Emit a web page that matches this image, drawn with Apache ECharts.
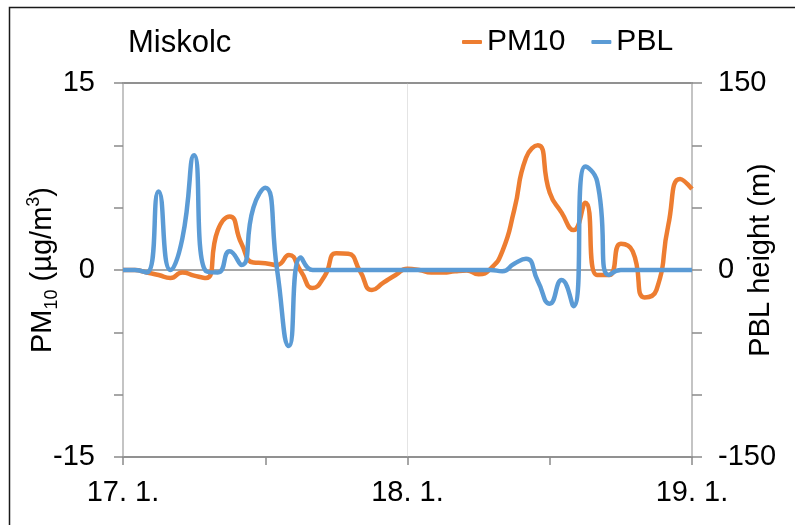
<!DOCTYPE html>
<html>
<head>
<meta charset="utf-8">
<script src="https://cdn.jsdelivr.net/npm/echarts@6/dist/echarts.min.js"></script>
<style>
html,body{margin:0;padding:0;background:#fff;}
#chart{width:795px;height:525px;}
</style>
</head>
<body>
<div id="chart"></div>
<script>
// Hours since 17.1. 00:00 (hourly)
const hours = [0,1,2,3,4,5,6,7,8,9,10,11,12,13,14,15,16,17,18,19,20,21,22,23,24,25,26,27,28,29,30,31,32,33,34,35,36,37,38,39,40,41,42,43,44,45,46,47,48];
// PM10 (µg/m3), left axis
const pm10 = [0,0,-0.2,-0.4,-0.65,-0.2,-0.45,-0.65,3.2,4.3,2.1,0.6,0.55,0.4,1.2,-0.1,-1.45,-0.5,1.35,1.3,-0.1,-1.6,-1.0,-0.4,0.1,0,-0.2,-0.2,-0.1,-0.05,-0.35,0.1,1.5,4.8,9.0,10.0,6.2,4.6,3.2,5.4,-0.4,-0.4,2.1,1.5,-2.2,-1.6,3.6,7.3,6.5];
// PBL height (m), right axis
const pbl = [0,0,-2,63,0,25,92,-1,-2,15,4,50,66,0,-61,10,0,0,0,0,0,0,0,0,0,0,0,0,0,0,0,0,-1,5,9,-9,-27,-8,-29,83,71,-4,0,0,0,0,0,0,0];
const seriesNames = ['PM10','PBL'];
const xTickLabels = {0:'17. 1.', 24:'18. 1.', 48:'19. 1.'};
const leftTickLabels = [-15,0,15];
const rightTickLabels = [-150,0,150];

const FONT = 'Liberation Sans, Arial, Helvetica, sans-serif';
const chart = echarts.init(document.getElementById('chart'), null, {renderer:'canvas'});

const option = {
  animation: false,
  backgroundColor: '#ffffff',
  textStyle: {fontFamily: FONT},
  graphic: [
    {type:'rect', left:7, top:5, shape:{width:800, height:540}, style:{fill:'none', stroke:'#1a1a1a', lineWidth:1.5}, silent:true, z:100},
    {type:'text', x:128, y:43, style:{text:'Miskolc', font:'31px ' + FONT, fill:'#000', textVerticalAlign:'middle', textAlign:'left'}, silent:true}
  ],
  legend: {
    data: seriesNames,
    left: 457, top: 22,
    icon: 'roundRect',
    itemWidth: 20, itemHeight: 4,
    itemGap: 26,
    textStyle: {fontSize: 30, color: '#000', fontFamily: FONT}
  },
  grid: {left: 123, right: 103, top: 83, bottom: 68, containLabel: false, outerBoundsMode: 'none'},
  xAxis: [
    {
      type: 'value', min: 0, max: 48, interval: 12, position: 'bottom',
      axisLine: {show: true, onZero: false, lineStyle: {color: '#8a8a8a', width: 1.5}},
      axisTick: {show: true, inside: false, length: 8, lineStyle: {color: '#8a8a8a', width: 1.5}},
      axisLabel: {margin: 21, fontSize: 29, color: '#000', fontFamily: FONT,
        formatter: v => (xTickLabels[v] !== undefined ? xTickLabels[v] : '')},
      splitLine: {show: false}
    },
    {
      type: 'value', min: 0, max: 48, interval: 24, position: 'top',
      axisLine: {show: true, onZero: false, lineStyle: {color: '#8a8a8a', width: 1.5}},
      axisTick: {show: false}, axisLabel: {show: false},
      splitLine: {show: true, lineStyle: {color: '#e4e4e4', width: 1}}
    }
  ],
  yAxis: [
    {
      type: 'value', min: -15, max: 15, interval: 5, position: 'left',
      axisLine: {show: true, onZero: false, lineStyle: {color: '#c4c4c4', width: 2}},
      axisTick: {show: true, inside: false, length: 9, lineStyle: {color: '#8a8a8a', width: 1.5}},
      axisLabel: {margin: 28, fontSize: 29, color: '#000', fontFamily: FONT,
        formatter: v => (leftTickLabels.indexOf(v) >= 0 ? String(v) : '')},
      splitLine: {show: false},
      name: '{a|PM}{s|10}{a| (µg/m}{p|3}{a|)}',
      nameLocation: 'middle', nameRotate: 90, nameGap: 62, nameMoveOverlap: false,
      nameTextStyle: {
        fontFamily: FONT, color: '#000',
        rich: {
          a: {fontSize: 29, lineHeight: 36, fontFamily: FONT, color: '#000'},
          s: {fontSize: 18, lineHeight: 18, verticalAlign: 'bottom', fontFamily: FONT, color: '#000'},
          p: {fontSize: 18, lineHeight: 18, verticalAlign: 'top', fontFamily: FONT, color: '#000'}
        }
      }
    },
    {
      type: 'value', min: -150, max: 150, interval: 50, position: 'right',
      axisLine: {show: true, onZero: false, lineStyle: {color: '#c4c4c4', width: 2}},
      axisTick: {show: true, inside: false, length: 10, lineStyle: {color: '#8a8a8a', width: 1.5}},
      axisLabel: {margin: 26, fontSize: 29, color: '#000', fontFamily: FONT,
        formatter: v => (rightTickLabels.indexOf(v) >= 0 ? String(v) : '')},
      splitLine: {show: false},
      name: 'PBL height (m)',
      nameLocation: 'middle', nameRotate: 90, nameGap: 54, nameMoveOverlap: false,
      nameTextStyle: {fontSize: 29, color: '#000', fontFamily: FONT, padding: [0, 0, 0, 20]}
    },
    {
      type: 'value', min: -15, max: 15, interval: 15, position: 'left',
      axisLine: {show: false}, axisTick: {show: false}, axisLabel: {show: false},
      splitLine: {show: true, lineStyle: {color: '#8a8a8a', width: 1.5}}
    }
  ],
  series: [
    {
      name: seriesNames[0], type: 'line', xAxisIndex: 0, yAxisIndex: 0,
      data: hours.map((h, i) => [h, pm10[i]]),
      smooth: 0.55, showSymbol: false, symbol: 'none',
      lineStyle: {color: '#ED7D31', width: 4.5}, itemStyle: {color: '#ED7D31'}, z: 2
    },
    {
      name: seriesNames[1], type: 'line', xAxisIndex: 0, yAxisIndex: 1,
      data: hours.map((h, i) => [h, pbl[i]]),
      smooth: 0.55, showSymbol: false, symbol: 'none',
      lineStyle: {color: '#5B9BD5', width: 4.5}, itemStyle: {color: '#5B9BD5'}, z: 3
    }
  ]
};
chart.setOption(option);
</script>
</body>
</html>
